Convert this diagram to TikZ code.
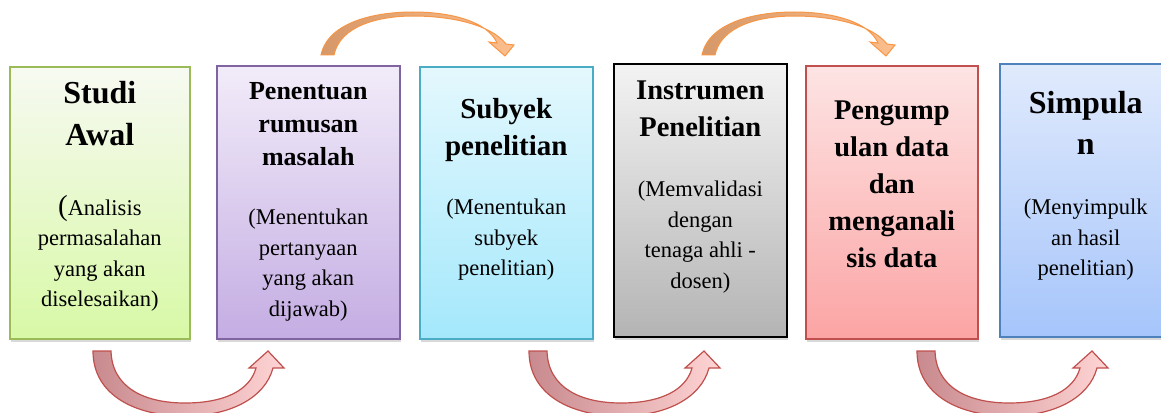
\documentclass[tikz,border=0pt]{standalone}
\usepackage{fontspec}
\setmainfont{Liberation Serif}
\usepackage{xcolor}
\usetikzlibrary{positioning,shadows}

\definecolor{lineA}{HTML}{9BBB59}
\definecolor{lineB}{HTML}{8064A2}
\definecolor{lineC}{HTML}{4BACC6}
\definecolor{lineE}{HTML}{C0504D}
\definecolor{lineF}{HTML}{4F81BD}
\definecolor{orangeline}{HTML}{F79646}

\begin{document}
\begin{tikzpicture}[x=1pt,y=-1pt,
    box/.style={draw,line width=1.6pt,anchor=north west,inner sep=0pt,
      drop shadow={shadow xshift=1pt,shadow yshift=-3pt,opacity=0.3}},
    title/.style 2 args={anchor=north,align=center,inner sep=0pt,
      font=\fontsize{#1}{#2}\selectfont\bfseries},
    body/.style={anchor=north,align=center,inner sep=0pt,
      font=\fontsize{22.5}{30.5}\selectfont},
    uparrow/.style={draw=orangeline,line width=1pt,left color={rgb,255:red,214;green,152;blue,104},
      right color={rgb,255:red,252;green,190;blue,140}},
    downarrow/.style={draw=lineE,line width=1.2pt,left color={rgb,255:red,200;green,138;blue,142},
      right color={rgb,255:red,255;green,212;blue,212}}]
    \useasboundingbox (0,0) rectangle (1161,412);
    \clip (0,0) rectangle (1161,412);

    \node[box,draw=lineA,top color=lineA!8,bottom color={rgb,255:red,216;green,249;blue,166},
      minimum width=180pt,minimum height=272pt] (studi) at (9,66) {};
    \node[box,draw=lineB,top color={rgb,255:red,242;green,236;blue,249},bottom color={rgb,255:red,196;green,173;blue,227},
      minimum width=183pt,minimum height=273pt] (rumusan) at (216,65) {};
    \node[box,draw=lineC,top color={rgb,255:red,228;green,248;blue,253},bottom color={rgb,255:red,164;green,232;blue,252},
      minimum width=173pt,minimum height=272pt] (subyek) at (419,66) {};
    \node[box,draw=black,top color={rgb,255:red,243;green,243;blue,243},bottom color={rgb,255:red,180;green,180;blue,180},
      minimum width=173pt,minimum height=273pt] (instrumen) at (613,63) {};
    \node[box,draw=lineE,top color={rgb,255:red,253;green,228;blue,228},bottom color={rgb,255:red,252;green,164;blue,164},
      minimum width=172pt,minimum height=273pt] (pengumpulan) at (805,65) {};
    \node[box,draw=lineF,top color={rgb,255:red,224;green,234;blue,252},bottom color={rgb,255:red,166;green,197;blue,251},
      minimum width=172pt,minimum height=273pt] (simpulan) at (999,63) {};

    \node[title={32}{42},below=15pt of studi.north] (studiT) {Studi\\Awal};
    \node[body,below=129pt of studi.north] (studiB)
      {{\fontsize{29}{30}\selectfont(}Analisis\\permasalahan\\yang akan\\diselesaikan)};
    \node[title={26}{33},below=17pt of rumusan.north] (rumusanT) {Penentuan\\rumusan\\masalah};
    \node[body,below=144pt of rumusan.north] (rumusanB) {(Menentukan\\pertanyaan\\yang akan\\dijawab)};
    \node[title={29}{37},below=32pt of subyek.north] (subyekT) {Subyek\\penelitian};
    \node[body,below=133pt of subyek.north] (subyekB) {(Menentukan\\subyek\\penelitian)};
    \node[title={28.5}{37},below=18pt of instrumen.north] (instrumenT) {Instrumen\\Penelitian};
    \node[body,below=118pt of instrumen.north] (instrumenB) {(Memvalidasi\\dengan\\tenaga ahli -\\dosen)};
    \node[title={28.5}{37},below=36pt of pengumpulan.north] (pengumpulanT)
      {Pengump\\ulan data\\dan\\menganali\\sis data};
    \node[title={32}{41},below=28pt of simpulan.north] (simpulanT) {Simpula\\n};
    \node[body,below=136pt of simpulan.north] (simpulanB) {(Menyimpulk\\an hasil\\penelitian)};

    \foreach \dx in {0,381}
      \draw[uparrow,shift={(\dx,0)}] (321,55) .. controls (328,22) and (375,12) .. (413,12)
        .. controls (452,12) and (488,22) .. (497,43) -- (489,42) -- (505,56) -- (514,45) -- (506,44)
        .. controls (490,24) and (450,16) .. (413,16) .. controls (378,16) and (340,26) .. (334,55) -- cycle;

    \foreach \dx in {0,436,824}
      \draw[downarrow,shift={(\dx,0)}] (93,351) -- (111,351) .. controls (112,388) and (145,403) .. (185,403)
        .. controls (225,403) and (250,390) .. (256,368) -- (249,368) -- (268,351) -- (284,368) -- (273,368)
        .. controls (265,398) and (230,416) .. (185,416) .. controls (135,416) and (93,395) .. (93,351) -- cycle;
  \end{tikzpicture}
\end{document}
